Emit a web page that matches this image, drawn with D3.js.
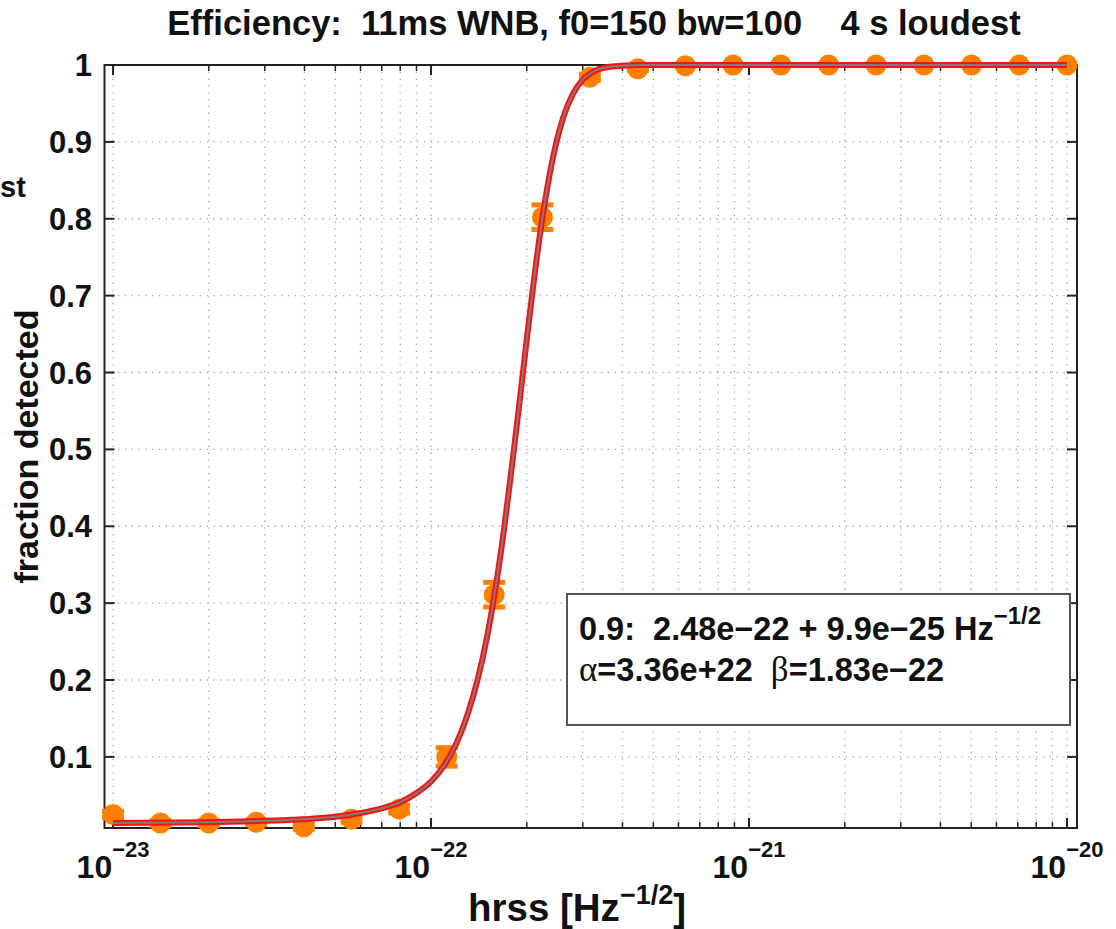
<!DOCTYPE html>
<html><head><meta charset="utf-8">
<script src="https://cdn.jsdelivr.net/npm/d3@7/dist/d3.min.js"></script>
<style>
html,body{margin:0;padding:0;background:#fff;}
svg{display:block;font-family:"Liberation Sans",Arial,Helvetica,sans-serif;font-weight:bold;}
svg text{white-space:pre;}
</style></head>
<body><svg id="c" width="1116" height="929"></svg>
<script>
// ---------- data ----------
const hrss = [1.00e-23, 1.41e-23, 2.00e-23, 2.82e-23, 3.98e-23, 5.62e-23, 7.94e-23,
              1.12e-22, 1.58e-22, 2.24e-22, 3.16e-22, 4.47e-22, 6.31e-22, 8.91e-22,
              1.26e-21, 1.78e-21, 2.51e-21, 3.55e-21, 5.01e-21, 7.08e-21, 1.00e-20];
const fraction = [0.025, 0.014, 0.014, 0.015, 0.009, 0.019, 0.032,
                  0.100, 0.311, 0.802, 0.984, 0.995, 0.999, 1.000,
                  1.000, 1.000, 1.000, 1.000, 1.000, 1.000, 1.000];
const fracErr = [0.004, 0.003, 0.003, 0.003, 0.003, 0.004, 0.005,
                 0.012, 0.016, 0.016, 0.004, 0.002, 0.001, 0,
                 0, 0, 0, 0, 0, 0, 0];
// fitted sigmoid
const fitX = [1.0e-23, 2.0e-23, 3.0e-23, 4.0e-23, 5.0e-23, 6.0e-23, 7.0e-23, 8.0e-23, 9.0e-23,
              1.0e-22, 1.1e-22, 1.2e-22, 1.3e-22, 1.4e-22, 1.5e-22, 1.6e-22, 1.7e-22, 1.8e-22,
              1.9e-22, 2.0e-22, 2.2e-22, 2.4e-22, 2.6e-22, 2.8e-22, 3.0e-22, 3.3e-22, 3.7e-22,
              4.5e-22, 6.0e-22, 1.0e-21, 1.0e-20];
const fitY = [0.014, 0.015, 0.017, 0.019, 0.022, 0.027, 0.033, 0.041, 0.053,
              0.068, 0.089, 0.117, 0.154, 0.200, 0.256, 0.323, 0.399, 0.481,
              0.563, 0.643, 0.779, 0.873, 0.931, 0.963, 0.981, 0.993, 0.998,
              1.000, 1.000, 1.000, 1.000];
const xLimits = [9.40e-24, 1.075e-20];
const yLimits = [0.0075, 1.0];
const xMajorTicks = [1e-23, 1e-22, 1e-21, 1e-20];
const xTickExps = ["\u221223", "\u221222", "\u221221", "\u221220"];
const yTicks = [0.1, 0.2, 0.3, 0.4, 0.5, 0.6, 0.7, 0.8, 0.9, 1];
const yTickLabels = ["0.1", "0.2", "0.3", "0.4", "0.5", "0.6", "0.7", "0.8", "0.9", "1"];
const titleText = "Efficiency:  11ms WNB, f0=150 bw=100    4 s loudest";
const legendLine1 = "0.9:  2.48e\u221222 + 9.9e\u221225 Hz";
const legendLine1Sup = "\u22121/2";
const alphaText = "=3.36e+22  ";
const betaText = "=1.83e\u221222";

// ---------- layout ----------
const L = 104.5, R = 1077, T = 65, B = 828;
const svg = d3.select("#c");
const x = d3.scaleLog().domain(xLimits).range([L, R]);
const y = d3.scaleLinear().domain(yLimits).range([B, T]);

const minorTicks = x.ticks().filter(v => !xMajorTicks.some(m => Math.abs(m - v) / m < 1e-6));

// grid
const grid = svg.append("g").attr("stroke", "#a8a8a8").attr("stroke-width", 1.3)
  .attr("stroke-dasharray", "1.3,5.5");
x.ticks().forEach(v => {
  grid.append("line").attr("x1", x(v)).attr("x2", x(v)).attr("y1", T).attr("y2", B);
});
yTicks.filter(v => v < 1).forEach(v => {
  grid.append("line").attr("x1", L).attr("x2", R).attr("y1", y(v)).attr("y2", y(v));
});

// box + ticks
const ax = svg.append("g").attr("stroke", "#222").attr("stroke-width", 2).attr("fill", "none");
ax.append("rect").attr("x", L).attr("y", T).attr("width", R - L).attr("height", B - T);
xMajorTicks.forEach(v => {
  ax.append("line").attr("x1", x(v)).attr("x2", x(v)).attr("y1", B).attr("y2", B - 10);
  ax.append("line").attr("x1", x(v)).attr("x2", x(v)).attr("y1", T).attr("y2", T + 10);
});
minorTicks.forEach(v => {
  ax.append("line").attr("x1", x(v)).attr("x2", x(v)).attr("y1", B).attr("y2", B - 6).attr("stroke-width", 1.5);
  ax.append("line").attr("x1", x(v)).attr("x2", x(v)).attr("y1", T).attr("y2", T + 6).attr("stroke-width", 1.5);
});
yTicks.forEach(v => {
  ax.append("line").attr("x1", L).attr("x2", L + 10).attr("y1", y(v)).attr("y2", y(v));
  ax.append("line").attr("x1", R).attr("x2", R - 10).attr("y1", y(v)).attr("y2", y(v));
});

// tick labels
const tl = svg.append("g").attr("fill", "#111");
yTicks.forEach((v, i) => {
  tl.append("text").attr("x", 92).attr("y", y(v) + 11).attr("text-anchor", "end")
    .attr("font-size", 31).text(yTickLabels[i]);
});
xMajorTicks.forEach((v, i) => {
  const t = tl.append("text").attr("x", x(v)).attr("y", 878).attr("text-anchor", "middle")
    .attr("font-size", 32);
  t.append("tspan").text("10");
  t.append("tspan").attr("dy", -21).attr("font-size", 22).text(xTickExps[i]);
});

// title
svg.append("text").attr("x", 594).attr("y", 35).attr("text-anchor", "middle")
  .attr("font-size", 34.5).attr("fill", "#111").text(titleText);

// x label
const xl = svg.append("text").attr("x", 577).attr("y", 921).attr("text-anchor", "middle")
  .attr("font-size", 38.5).attr("fill", "#111");
xl.append("tspan").text("hrss [Hz");
xl.append("tspan").attr("dy", -17).attr("font-size", 27).text("\u22121/2");
xl.append("tspan").attr("dy", 17).text("]");

// y label
svg.append("text")
  .attr("transform", `translate(38,${(T + B) / 2}) rotate(-90)`)
  .attr("text-anchor", "middle").attr("font-size", 34).attr("fill", "#111")
  .text("fraction detected");
// fragment of text at the left edge
svg.append("text").attr("x", 0).attr("y", 197)
  .attr("font-size", 29).attr("fill", "#111").text("st");

// data: error bars + markers
const orange = "#ff8000";
const pts = svg.append("g");
hrss.forEach((h, i) => {
  const e = fracErr[i];
  if (e > 0) {
    const cx = x(h);
    pts.append("line").attr("x1", cx).attr("x2", cx).attr("y1", y(fraction[i] - e)).attr("y2", y(fraction[i] + e))
      .attr("stroke", orange).attr("stroke-width", 4);
    [fraction[i] - e, fraction[i] + e].forEach(v => {
      pts.append("line").attr("x1", cx - 11).attr("x2", cx + 11).attr("y1", y(v)).attr("y2", y(v))
        .attr("stroke", orange).attr("stroke-width", 5);
    });
  }
  pts.append("circle").attr("cx", x(h)).attr("cy", y(fraction[i])).attr("r", 10.5).attr("fill", orange);
});

// fit curve
const fitData = fitX.map((v, i) => [v, fitY[i]]);
const line = d3.line().x(d => x(d[0])).y(d => y(d[1])).curve(d3.curveMonotoneX);
svg.append("path").datum(fitData).attr("d", line).attr("fill", "none")
  .attr("stroke", "#ff1010").attr("stroke-width", 6);
svg.append("path").datum(fitData).attr("d", line).attr("fill", "none")
  .attr("stroke", "#7d7d7d").attr("stroke-width", 2);

// legend box
const lg = svg.append("g");
lg.append("rect").attr("x", 567).attr("y", 594).attr("width", 503).attr("height", 131)
  .attr("fill", "#fff").attr("stroke", "#555").attr("stroke-width", 2);
const l1 = lg.append("text").attr("x", 579).attr("y", 640).attr("font-size", 32.5).attr("fill", "#111");
l1.append("tspan").text(legendLine1);
l1.append("tspan").attr("dy", -16).attr("font-size", 24).text(legendLine1Sup);
const l2 = lg.append("text").attr("x", 579).attr("y", 681).attr("font-size", 32.5).attr("fill", "#111");
l2.append("tspan").attr("font-family", "Liberation Serif").attr("font-weight", "normal").attr("font-size", 35).text("\u03b1");
l2.append("tspan").text(alphaText);
l2.append("tspan").attr("font-family", "Liberation Serif").attr("font-weight", "normal").attr("font-size", 35).text("\u03b2");
l2.append("tspan").text(betaText);
</script>
</body></html>
